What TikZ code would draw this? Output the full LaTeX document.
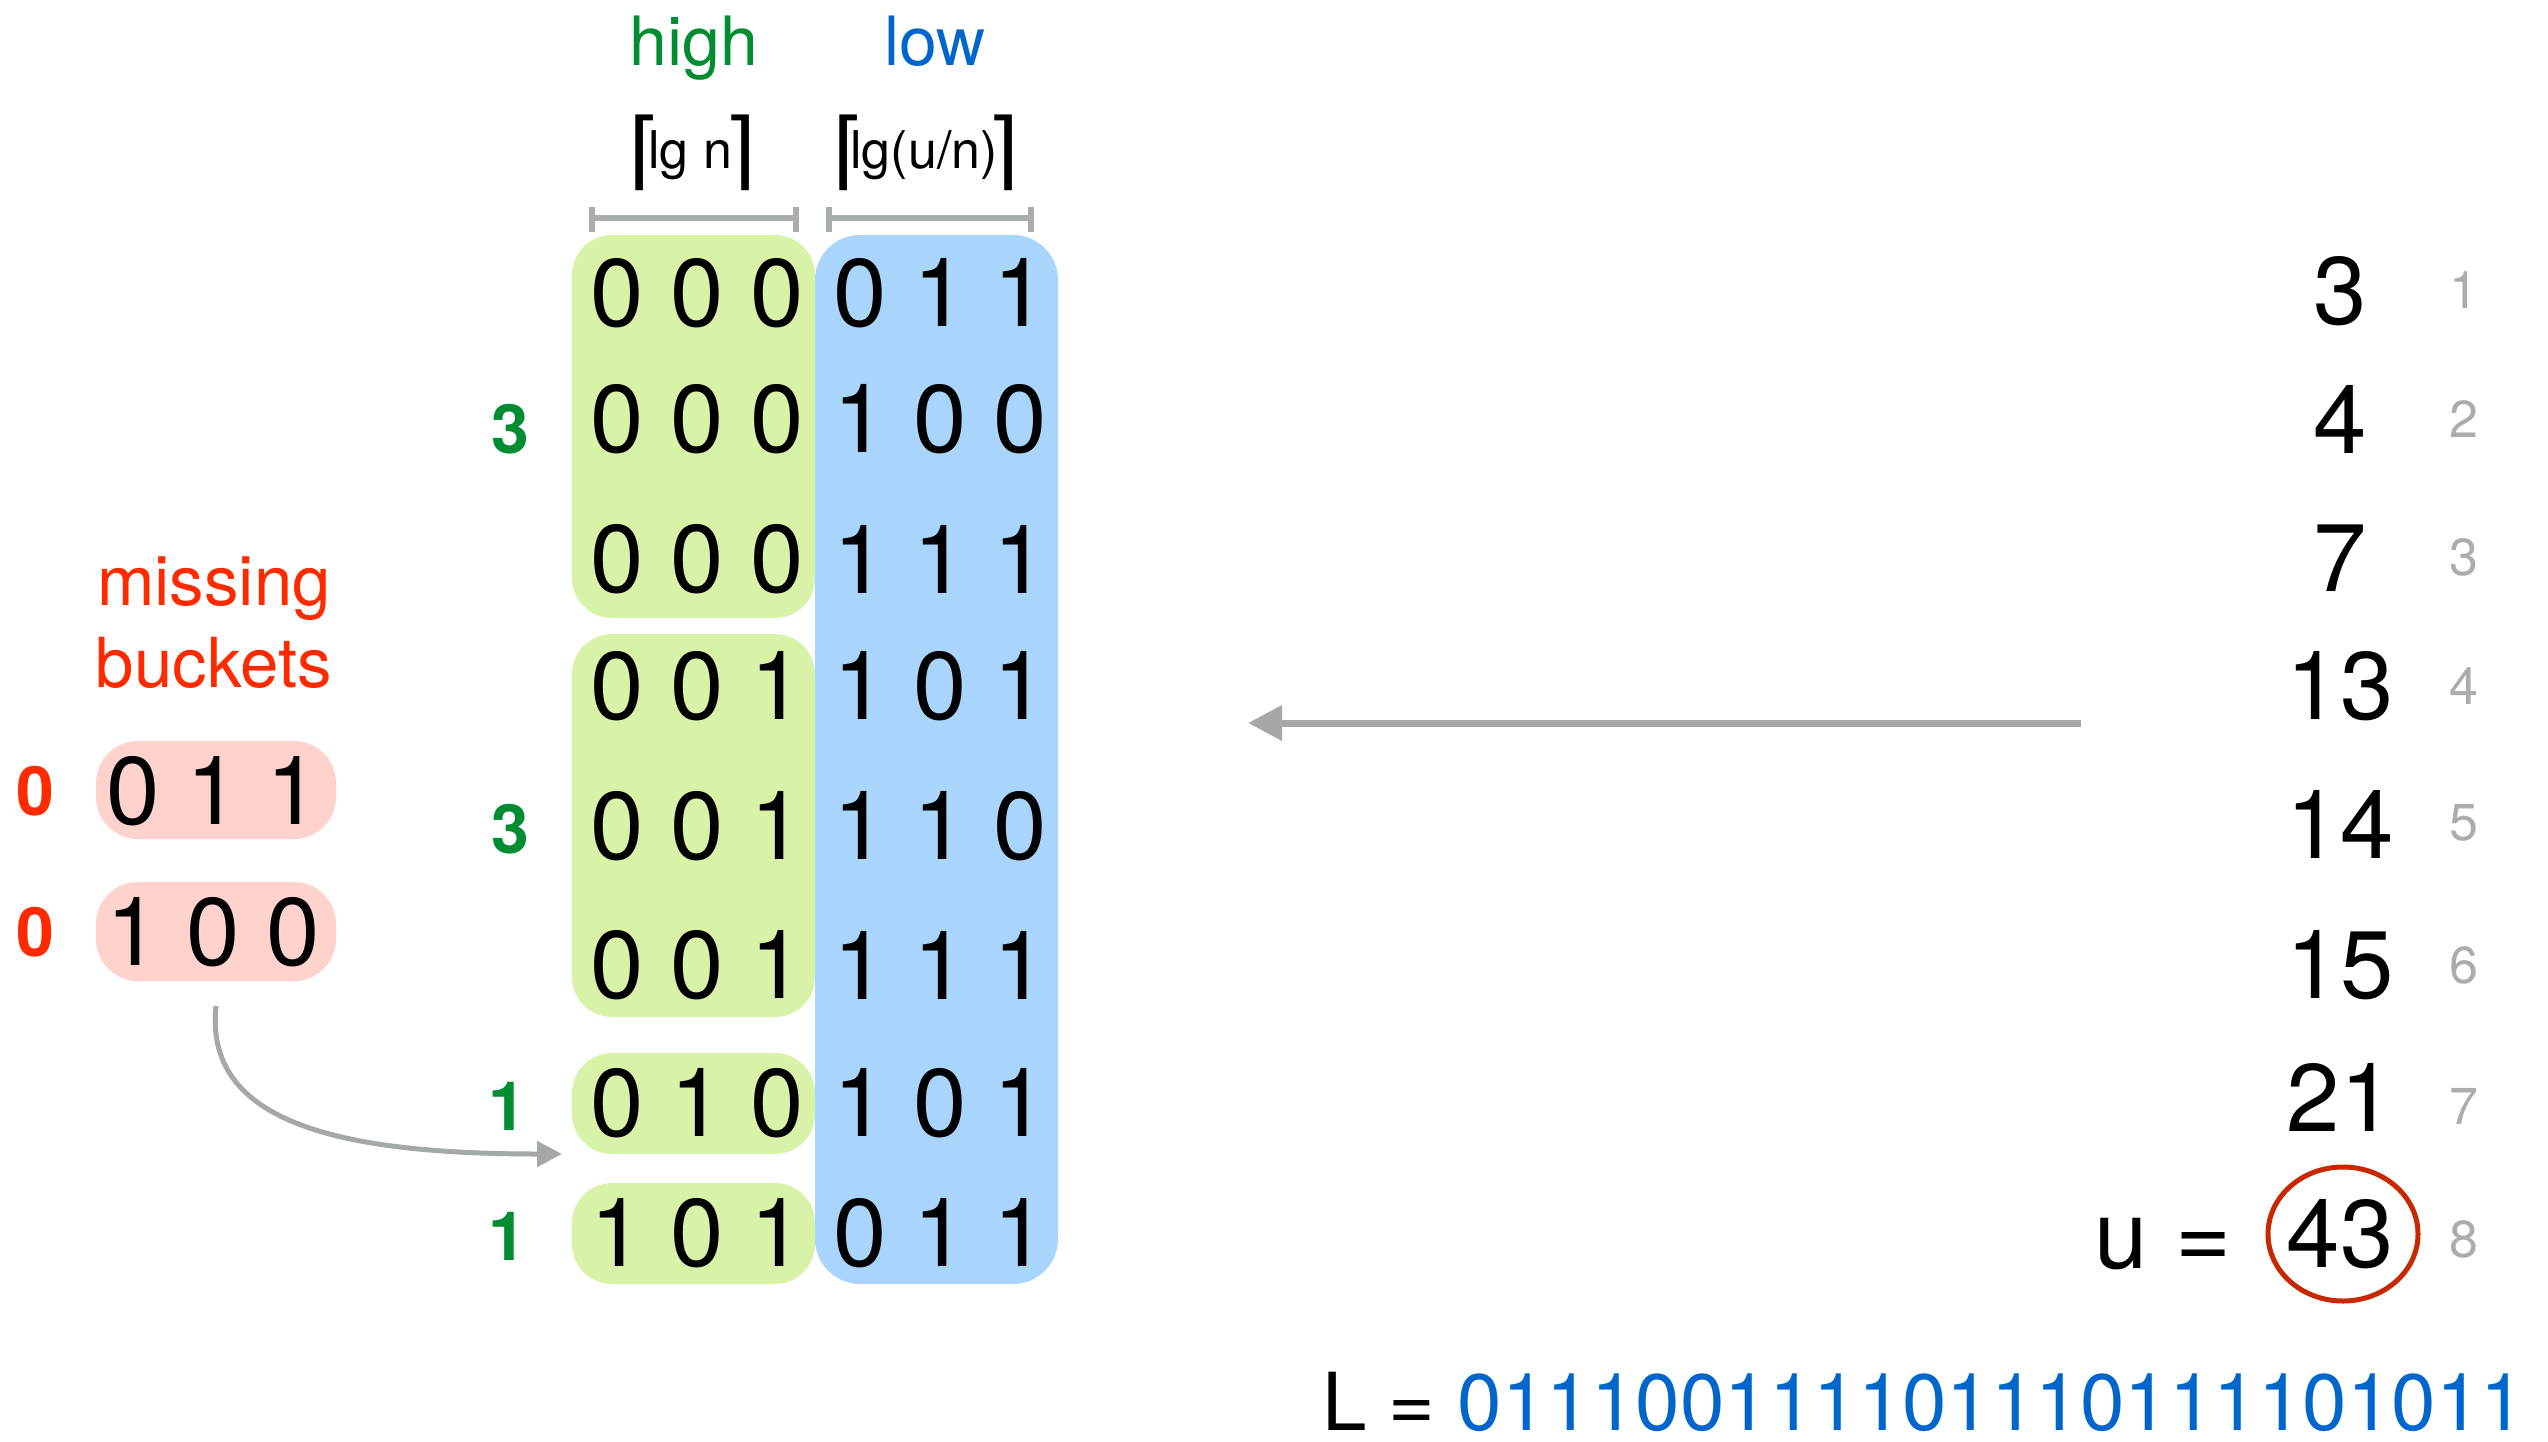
\documentclass[tikz,border=0pt]{standalone}
\usepackage{fontspec}
\setmainfont{TeX Gyre Heros}
\newfontfamily\symfont{DejaVu Sans}
\usetikzlibrary{arrows.meta}

\definecolor{hiGreen}{RGB}{0,140,48}
\definecolor{loBlue}{RGB}{0,102,204}
\definecolor{missRed}{RGB}{255,42,0}
\definecolor{hiFill}{RGB}{216,242,168}
\definecolor{loFill}{RGB}{169,212,252}
\definecolor{missFill}{RGB}{255,210,205}
\definecolor{arrowGray}{RGB}{165,168,168}
\definecolor{idxGray}{RGB}{170,173,173}
\definecolor{circRed}{RGB}{200,40,0}

\newcommand{\pxfont}[1]{\fontsize{#1pt}{#1pt}\selectfont}
% ceiling marks set over the ends of a label: #1 = shift of the left mark,
% #2 = shift of the right mark, #3 = the label
\newcommand{\ceillabel}[3]{%
  \kern-#1\makebox[0pt]{\raisebox{-11pt}{\symfont\pxfont{85}⌈}}\kern#1%
  #3%
  \kern#2\makebox[0pt]{\raisebox{-11pt}{\symfont\pxfont{85}⌉}}\kern-#2}

\begin{document}
\begin{tikzpicture}[x=1pt,y=-1pt,
  every node/.style={inner sep=0pt, outer sep=0pt},
  hibox/.style={fill=hiFill, rounded corners=40pt, minimum width=243pt},
  lobox/.style={fill=loFill, rounded corners=45pt},
  missbox/.style={fill=missFill, rounded corners=42pt, minimum width=240pt},
  bits/.style={font={\pxfont{96}}},
  count/.style={font={\bfseries\pxfont{68}}, text=hiGreen},
  gapcount/.style={font={\bfseries\pxfont{68}}, text=missRed},
  idx/.style={font={\pxfont{52}}, text=idxGray},
  head/.style={font={\pxfont{68}}, anchor=base},
  width label/.style={font={\pxfont{52}}, anchor=base},
  guide/.style={draw=idxGray, line width=6pt},
  conn/.style={draw=arrowGray, line width=5pt, -{Triangle[length=25pt,width=25pt]}},
  bigconn/.style={draw=arrowGray, line width=7pt, -{Triangle[length=34pt,width=34pt]}}
]
\useasboundingbox (0,0) rectangle (2548,1441);

% column headings
\node[head, text=hiGreen] (hiHead) at (694,65) {high};
\node[head, text=loBlue] (loHead) at (935,65) {low};
\node[width label] (hiWidth) at (690,168) {\ceillabel{3.5pt}{8pt}{lg n}};
\node[width label] (loWidth) at (924,168) {\ceillabel{1pt}{5pt}{lg(u/n)}};

% width guides
\draw[guide] (592,207) -- (592,232) (592,218) -- (796,218) (796,207) -- (796,232);
\draw[guide] (829,207) -- (829,232) (829,218) -- (1031,218) (1031,207) -- (1031,232);

% low-bit column and high-bit buckets
\node[lobox, minimum width=243pt, minimum height=1049pt] (lowcol) at (936.5,759.5) {};
\node[hibox, minimum height=383pt] (g1) at (693.5,426.5) {};
\node[hibox, minimum height=383pt] (g2) at (693.5,825.5) {};
\node[hibox, minimum height=101pt] (g3) at (693.5,1103.5) {};
\node[hibox, minimum height=101pt] (g4) at (693.5,1233.5) {};

% bucket sizes
\node[count] (c1) at (510,429) {3};
\node[count] (c2) at (510,829) {3};
\node[count] (c3) at (507,1106) {1};
\node[count] (c4) at (507,1236) {1};

% split bits of each element
\foreach \i/\y/\hi/\lo in {1/293/0 0 0/0 1 1, 2/419/0 0 0/1 0 0, 3/559/0 0 0/1 1 1,
    4/686/0 0 1/1 0 1, 5/826/0 0 1/1 1 0, 6/965/0 0 1/1 1 1,
    7/1103/0 1 0/1 0 1, 8/1233/1 0 1/0 1 1}{
  \node[bits] (hi\i) at (697,\y) {\hi};
  \node[bits] (lo\i) at (940,\y) {\lo};
}

% missing buckets
\node[font={\pxfont{69}}, text=missRed, anchor=base] (missA) at (214,605) {missing};
\node[font={\pxfont{69}}, text=missRed, anchor=base] (missB) at (214,687) {buckets};
\node[missbox, minimum height=98pt] (m1) at (216,790) {};
\node[missbox, minimum height=99pt] (m2) at (216,931.5) {};
\node[gapcount] (z1) at (35,791) {0};
\node[gapcount] (z2) at (35,932) {0};
\node[bits] (mb1) at (213,791) {0 1 1};
\node[bits] (mb2) at (213,932) {1 0 0};

% the sorted values
\foreach \i/\y/\v in {1/291/3, 2/419/4, 3/558/7, 4/686/13, 5/824/14, 6/965/15, 7/1097/21, 8/1234/43}{
  \node[bits] (v\i) at (2340,\y) {\v};
}
\foreach \i/\y in {1/290, 2/419, 3/557, 4/686, 5/823, 6/965, 7/1106, 8/1239}{
  \node[idx] (ix\i) at (2464,\y) {\i};
}
\node[bits, anchor=base] (ueq) at (2163,1268) {u =};
\draw[circRed, line width=5pt] ([xshift=3pt]v8.center) ellipse [x radius=75, y radius=67];

% concatenated low bits
\node[font={\pxfont{80}}, anchor=base west] (Lrow) at (1322,1430)
  {L = \textcolor{loBlue}{011100111101110111101011}};

% connectors
\coordinate (splitFrom) at (2081,723);
\coordinate (splitTo) at (1248,723);
\draw[bigconn] (splitFrom) -- (splitTo);
\draw[conn] ([yshift=-25pt]m2.south) .. controls +(-12,114) and +(-230,0) .. ([xshift=-10pt]g3.south west);
\end{tikzpicture}
\end{document}
